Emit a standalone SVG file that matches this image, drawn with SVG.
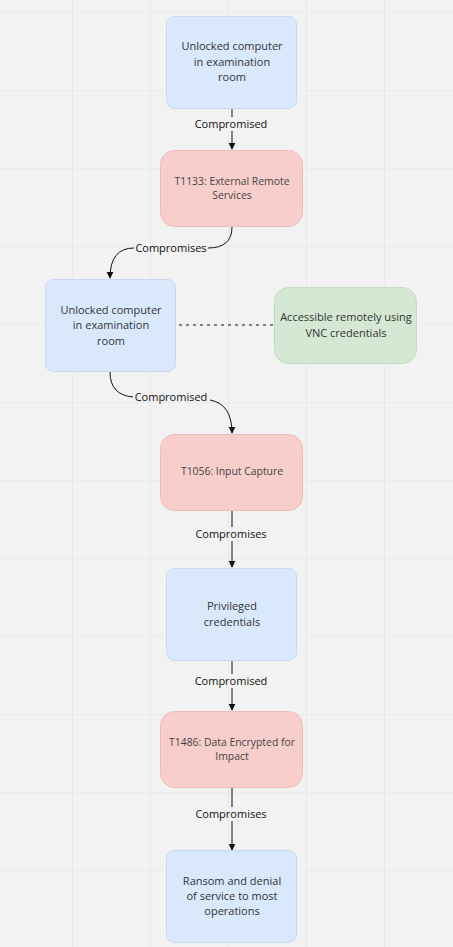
<svg xmlns="http://www.w3.org/2000/svg" width="453" height="947" viewBox="0 0 453 947">
<defs>
<pattern id="grid" x="72" y="12" width="78" height="78" patternUnits="userSpaceOnUse">
<path d="M0,0 H78 M0,0 V78" stroke="#e3e3e3" stroke-width="1.2" fill="none"/>
</pattern>
<marker id="arr" viewBox="0 0 10 10" refX="9" refY="5" markerWidth="7" markerHeight="9" orient="auto" markerUnits="userSpaceOnUse">
<path d="M0,0 L10,5 L0,10 Z" fill="#111"/>
</marker>
<style>
.blue{fill:#dae8fc;stroke:#c7d8f0;stroke-width:1}
.red{fill:#f8cecc;stroke:#eebcba;stroke-width:1}
.green{fill:#d5e8d4;stroke:#c4dbc2;stroke-width:1}
.nt{font-family:"Open Sans","Noto Sans",sans-serif;font-size:11px;fill:#333;text-anchor:middle}
.rt{font-family:"Open Sans","Noto Sans",sans-serif;font-size:10.4px;fill:#444;text-anchor:middle}
.edge{fill:none;stroke:#111;stroke-width:1}
.lbl{font-family:"Open Sans","Noto Sans",sans-serif;font-size:11px;fill:#111;text-anchor:middle}
.lblbg{fill:#f2f2f2}
</style>
</defs>
<rect width="453" height="947" fill="#f2f2f2"/>
<rect width="453" height="947" fill="url(#grid)"/>

<g id="connectors">
<path class="edge" d="M232,109 V149" marker-end="url(#arr)"/>
<rect class="lblbg" x="195" y="117" width="72" height="14"/>
<text class="lbl" x="231" y="128">Compromised</text>

<path class="edge" d="M232,227 Q232,248 208,248"/>
<path class="edge" d="M134,248 Q110,248 110,278" marker-end="url(#arr)"/>
<text class="lbl" x="171" y="252">Compromises</text>

<path class="edge" d="M179,325 H274" stroke="#777" stroke-width="1.2" stroke-dasharray="3,4" fill="none"/>

<path class="edge" d="M110,372 Q110,395 133,397"/>
<path class="edge" d="M210,400 Q232,404 232,433" marker-end="url(#arr)"/>
<text class="lbl" x="171" y="401">Compromised</text>

<path class="edge" d="M232,511 V567" marker-end="url(#arr)"/>
<rect class="lblbg" x="195" y="527" width="74" height="14"/>
<text class="lbl" x="231" y="538">Compromises</text>

<path class="edge" d="M232,661 V710" marker-end="url(#arr)"/>
<rect class="lblbg" x="195" y="674" width="72" height="14"/>
<text class="lbl" x="231" y="685">Compromised</text>

<path class="edge" d="M232,788 V850" marker-end="url(#arr)"/>
<rect class="lblbg" x="195" y="807" width="74" height="14"/>
<text class="lbl" x="231" y="818">Compromises</text>
</g>

<g id="n1">
<rect class="blue" x="166.5" y="16.5" width="130" height="92" rx="8"/>
<text class="nt" x="232" y="50">Unlocked computer</text>
<text class="nt" x="232" y="66">in examination</text>
<text class="nt" x="232" y="81">room</text>
</g>

<g id="n2">
<rect class="red" x="160.5" y="150.5" width="142" height="76" rx="14"/>
<text class="rt" x="232" y="185">T1133: External Remote</text>
<text class="rt" x="232" y="199">Services</text>
</g>

<g id="n3">
<rect class="blue" x="45.5" y="279.5" width="130" height="92" rx="8"/>
<text class="nt" x="111" y="314">Unlocked computer</text>
<text class="nt" x="111" y="329">in examination</text>
<text class="nt" x="111" y="345">room</text>
</g>

<g id="n4">
<rect class="green" x="274.5" y="287.5" width="142" height="76" rx="14"/>
<text class="nt" x="346" y="321">Accessible remotely using</text>
<text class="nt" x="346" y="337">VNC credentials</text>
</g>

<g id="n5">
<rect class="red" x="160.5" y="434.5" width="142" height="76" rx="14"/>
<text class="rt" x="232" y="475">T1056: Input Capture</text>
</g>

<g id="n6">
<rect class="blue" x="166.5" y="568.5" width="130" height="92" rx="8"/>
<text class="nt" x="232" y="610">Privileged</text>
<text class="nt" x="232" y="626">credentials</text>
</g>

<g id="n7">
<rect class="red" x="160.5" y="711.5" width="142" height="76" rx="14"/>
<text class="rt" x="232" y="746">T1486: Data Encrypted for</text>
<text class="rt" x="232" y="760">Impact</text>
</g>

<g id="n8">
<rect class="blue" x="166.5" y="850.5" width="130" height="92" rx="8"/>
<text class="nt" x="232" y="885">Ransom and denial</text>
<text class="nt" x="232" y="900">of service to most</text>
<text class="nt" x="232" y="915">operations</text>
</g>
</svg>
